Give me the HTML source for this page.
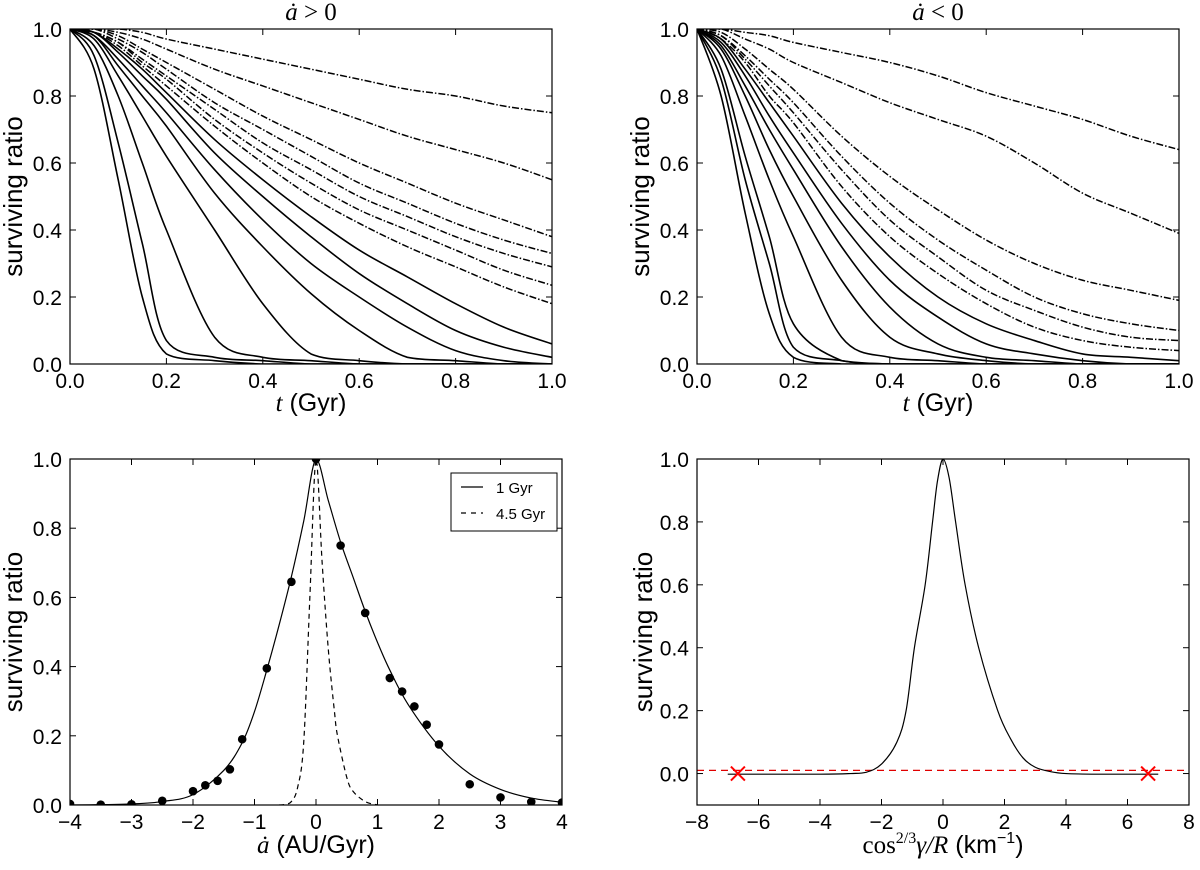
<!DOCTYPE html>
<html><head><meta charset="utf-8"><style>
html,body{margin:0;padding:0;background:#fff;}
svg{display:block;font-family:"Liberation Sans",sans-serif;}
.tick{font-size:21px;fill:#000;}
.ylab{font-size:26px;fill:#000;}
.xlab{font-size:25px;fill:#000;}
.math{font-family:"Liberation Serif",serif;font-style:italic;}
</style></head><body>
<svg id="fig" width="1200" height="870" viewBox="0 0 1200 870" xmlns="http://www.w3.org/2000/svg"></svg>
<script>
// ---- data ----
const tGrid = [0,0.05,0.1,0.15,0.2,0.3,0.4,0.5,0.6,0.7,0.8,0.9,1.0];
const posCurves = [
 [1,.88,.55,.2,.03,.01,0,0,0,0,0,0,0],
 [1,.92,.66,.36,.07,.02,.01,0,0,0,0,0,0],
 [1,.95,.8,.6,.4,.08,.02,.01,0,0,0,0,0],
 [1,.97,.86,.74,.62,.4,.18,.03,.01,0,0,0,0],
 [1,.98,.89,.8,.71,.51,.35,.21,.1,.02,.01,0,0],
 [1,.98,.91,.83,.75,.58,.43,.3,.2,.11,.04,.01,0],
 [1,.99,.93,.86,.79,.63,.5,.38,.27,.18,.1,.05,.02],
 [1,.99,.94,.88,.81,.67,.55,.44,.34,.26,.18,.11,.06],
 [1,.99,.95,.89,.83,.71,.6,.5,.42,.35,.29,.23,.18],
 [1,.99,.96,.9,.85,.73,.63,.54,.46,.4,.34,.28,.235],
 [1,.99,.96,.91,.86,.76,.66,.58,.5,.44,.38,.33,.29],
 [1,1,.97,.93,.88,.78,.7,.62,.54,.48,.42,.37,.33],
 [1,1,.98,.94,.9,.82,.74,.67,.6,.54,.48,.43,.38],
 [1,1,.99,.97,.94,.88,.83,.78,.73,.68,.64,.6,.55],
 [1,1,1,.99,.97,.94,.91,.88,.85,.82,.8,.77,.75]
];
const negCurves = [
 [1,.8,.45,.15,.02,0,0,0,0,0,0,0,0],
 [1,.85,.55,.3,.05,.01,0,0,0,0,0,0,0],
 [1,.88,.62,.38,.12,.01,0,0,0,0,0,0,0],
 [1,.92,.74,.55,.38,.08,.02,.01,0,0,0,0,0],
 [1,.94,.8,.64,.5,.25,.08,.03,.01,0,0,0,0],
 [1,.95,.83,.7,.58,.35,.17,.06,.02,.01,0,0,0],
 [1,.96,.86,.74,.63,.42,.25,.14,.06,.03,.01,0,0],
 [1,.97,.88,.78,.68,.48,.32,.2,.12,.07,.03,.02,.01],
 [1,.97,.9,.8,.72,.53,.38,.27,.18,.11,.07,.05,.04],
 [1,.98,.91,.83,.75,.58,.43,.32,.22,.16,.11,.08,.07],
 [1,.98,.92,.85,.78,.62,.48,.37,.28,.2,.15,.12,.10],
 [1,.99,.94,.88,.82,.68,.56,.46,.37,.3,.25,.22,.19],
 [1,1,.97,.94,.9,.84,.78,.73,.68,.6,.51,.45,.39],
 [1,1,.99,.98,.96,.93,.9,.86,.81,.77,.73,.68,.64]
];
const dotX = [-4,-3.5,-3,-2.5,-2,-1.8,-1.6,-1.4,-1.2,-0.8,-0.4,0,0.4,0.8,1.2,1.4,1.6,1.8,2,2.5,3,3.5,4];
const dotY = [0.003,0.001,0.002,0.012,0.04,0.057,0.07,0.103,0.19,0.395,0.645,1.0,0.75,0.555,0.367,0.328,0.285,0.232,0.175,0.06,0.022,0.009,0.007];
const fit1X = [-4,-3.5,-3,-2.5,-2,-1.5,-1.2,-1,-0.8,-0.6,-0.4,-0.2,0,0.2,0.4,0.6,0.8,1,1.2,1.5,2,2.5,3,3.5,4];
const fit1Y = [0,0.001,0.003,0.01,0.03,0.1,0.18,0.27,0.39,0.52,0.66,0.82,1.0,0.88,0.76,0.66,0.56,0.47,0.39,0.29,0.17,0.09,0.045,0.02,0.008];
const fit45X = [-0.6,-0.5,-0.4,-0.3,-0.2,-0.1,0,0.1,0.2,0.3,0.35,0.5,0.6,0.8,1.0];
const fit45Y = [0,0.002,0.01,0.05,0.18,0.6,1.0,0.7,0.45,0.27,0.2,0.08,0.04,0.01,0];
const peakX = [-7,-4,-3,-2.5,-2,-1.5,-1.2,-0.93,-0.58,-0.34,-0.18,0,0.2,0.41,0.72,1.16,1.78,2.2,2.6,3,3.5,4,5,7];
const peakY = [-0.002,-0.002,0,0.004,0.03,0.1,0.2,0.4,0.6,0.8,0.93,1,0.94,0.8,0.6,0.4,0.2,0.11,0.05,0.02,0.006,0,-0.002,-0.002];
const crossX = [-6.67,6.67];
const crossY = [0,0];
const thresholdY = [0.01];
const ticks01 = ["0.0","0.2","0.4","0.6","0.8","1.0"];
const tickAdot = ["−4","−3","−2","−1","0","1","2","3","4"];
const tickCos = ["−8","−6","−4","−2","0","2","4","6","8"];
const tickYbr = ["0.0","0.2","0.4","0.6","0.8","1.0"];

// ---- helpers ----
const NS="http://www.w3.org/2000/svg";
const svg=document.getElementById('fig');
function mk(tag,attrs,parent){const e=document.createElementNS(NS,tag);for(const k in attrs)e.setAttribute(k,attrs[k]);(parent||svg).appendChild(e);return e;}
function clampv(v,a,b){const lo=Math.min(a,b),hi=Math.max(a,b);return Math.max(lo,Math.min(hi,v));}
function smooth(pts){
  let d='M'+pts[0][0].toFixed(2)+','+pts[0][1].toFixed(2);
  for(let i=0;i<pts.length-1;i++){
    const p0=pts[Math.max(0,i-1)],p1=pts[i],p2=pts[i+1],p3=pts[Math.min(pts.length-1,i+2)];
    const c1x=p1[0]+(p2[0]-p0[0])/6,c1y=clampv(p1[1]+(p2[1]-p0[1])/6,p1[1],p2[1]);
    const c2x=p2[0]-(p3[0]-p1[0])/6,c2y=clampv(p2[1]-(p3[1]-p1[1])/6,p1[1],p2[1]);
    d+='C'+c1x.toFixed(2)+','+c1y.toFixed(2)+' '+c2x.toFixed(2)+','+c2y.toFixed(2)+' '+p2[0].toFixed(2)+','+p2[1].toFixed(2);
  }
  return d;
}
function makePanel(name,L,R,T,B,x0,x1,y0,y1){
  const g=mk('g',{});
  
  
  return {g,L,R,T,B,sx:v=>L+(v-x0)/(x1-x0)*(R-L),sy:v=>B-(v-y0)/(y1-y0)*(B-T)};
}
function frame(p,xt,xl,yt,yl){
  const clip=mk('clipPath',{id:'c'+p.L+p.T},p.g);
  mk('rect',{x:p.L,y:p.T,width:p.R-p.L,height:p.B-p.T},clip);
  p.clip='url(#c'+p.L+p.T+')';
  xt.forEach((v,i)=>{
    const x=p.sx(v);
    const t1=mk('line',{x1:x,x2:x,y1:p.B,y2:p.B-6,stroke:'#000','stroke-width':1},p.g);
    
    
    mk('line',{x1:x,x2:x,y1:p.T,y2:p.T+6,stroke:'#000','stroke-width':1},p.g);
    const tx=mk('text',{x:x,y:p.B+24,'text-anchor':'middle',class:'tick'},p.g);
    tx.textContent=xl[i];
    
    
  });
  yt.forEach((v,i)=>{
    const y=p.sy(v);
    const t1=mk('line',{x1:p.L,x2:p.L+6,y1:y,y2:y,stroke:'#000','stroke-width':1},p.g);
    
    
    mk('line',{x1:p.R,x2:p.R-6,y1:y,y2:y,stroke:'#000','stroke-width':1},p.g);
    const tx=mk('text',{x:p.L-8,y:y+8,'text-anchor':'end',class:'tick'},p.g);
    tx.textContent=yl[i];
    
    
  });
}
function border(p){
  const r=mk('rect',{x:p.L,y:p.T,width:p.R-p.L,height:p.B-p.T,fill:'none',stroke:'#000','stroke-width':1.2},p.g);
  
  
}
function ylabel(p,x){
  const t=mk('text',{x:x,y:(p.T+p.B)/2,'text-anchor':'middle',class:'ylab',transform:'rotate(-90 '+x+' '+(p.T+p.B)/2+')'},p.g);
  t.textContent='surviving ratio';
  
  
}
function curve(p,xs,ys,attrs,nm){
  const pts=xs.map((v,i)=>[p.sx(v),p.sy(ys[i])]);
  const a=Object.assign({d:smooth(pts),fill:'none',stroke:'#000','stroke-width':1.6,'clip-path':p.clip},attrs);
  const e=mk('path',a,p.g);
  
  
  return e;
}
function decayPanel(name,L,R,title,curves,nSolid){
  const p=makePanel(name,L,R,29,364,0,1,0,1);
  frame(p,[0,0.2,0.4,0.6,0.8,1],ticks01,[0,0.2,0.4,0.6,0.8,1],ticks01);
  curves.forEach((c,i)=>{
    const at=i<nSolid?{}:{'stroke-dasharray':'7 2 1.5 2','stroke-width':1.5};
    curve(p,tGrid,c,at,'survival-curve-'+(i+1));
  });
  border(p);
  ylabel(p,L-48);
  const tt=mk('text',{x:(L+R)/2,y:20,'text-anchor':'middle',class:'xlab'},p.g);
  tt.innerHTML='<tspan class="math">ȧ</tspan><tspan font-family="Liberation Serif"> '+title+' 0</tspan>';
  
  
  const xl=mk('text',{x:(L+R)/2,y:411,'text-anchor':'middle',class:'xlab'},p.g);
  xl.innerHTML='<tspan class="math">t</tspan> (Gyr)';
  
  
  return p;
}
decayPanel('panel-adot-positive',70,552,'&gt;',posCurves,8);
decayPanel('panel-adot-negative',697,1179,'&lt;',negCurves,8);

// bottom-left
const bl=makePanel('panel-adot-distribution',70,562,459,805,-4,4,0,1);
frame(bl,[-4,-3,-2,-1,0,1,2,3,4],tickAdot,[0,0.2,0.4,0.6,0.8,1],ticks01);
curve(bl,fit1X,fit1Y,{'stroke-width':1.2},'fit-1gyr-line');
curve(bl,fit45X,fit45Y,{'stroke-width':1.2,'stroke-dasharray':'5 4'},'fit-4.5gyr-line');
dotX.forEach((v,i)=>{
  const c=mk('circle',{cx:bl.sx(v),cy:bl.sy(dotY[i]),r:4.3,fill:'#000','clip-path':bl.clip},bl.g);
  
  
});
border(bl);
ylabel(bl,22);
{
  const xl=mk('text',{x:316,y:853,'text-anchor':'middle',class:'xlab'},bl.g);
  xl.innerHTML='<tspan class="math">ȧ</tspan> (AU/Gyr)';
  
  
  const lg=mk('g',{},bl.g);
  
  
  mk('rect',{x:451,y:473,width:106,height:58,fill:'#fff',stroke:'#000','stroke-width':1},lg);
  const e1=mk('line',{x1:461,x2:483,y1:487,y2:487,stroke:'#000','stroke-width':1.2},lg);
  
  
  const e2=mk('line',{x1:461,x2:483,y1:513,y2:513,stroke:'#000','stroke-width':1.2,'stroke-dasharray':'5 5'},lg);
  
  
  const a=mk('text',{x:496,y:493,style:'font-size:15px'},lg);a.textContent='1 Gyr';
  const b=mk('text',{x:496,y:519,style:'font-size:15px'},lg);b.textContent='4.5 Gyr';
}

// bottom-right
const br=makePanel('panel-size-distribution',697,1189,459,805,-8,8,-0.1,1);
frame(br,[-8,-6,-4,-2,0,2,4,6,8],tickCos,[0,0.2,0.4,0.6,0.8,1],tickYbr);
{
  const ty=br.sy(thresholdY[0]);
  const th=mk('line',{x1:br.L,x2:br.R,y1:ty,y2:ty,stroke:'#e00000','stroke-width':1.3,'stroke-dasharray':'7 5'},br.g);
  
  
}
curve(br,peakX,peakY,{'stroke-width':1.2},'survival-peak-line');
crossX.forEach((v,i)=>{
  const x=br.sx(v),y=br.sy(crossY[i]);
  const g=mk('g',{stroke:'#f00','stroke-width':2},br.g);
  
  
  mk('line',{x1:x-7,y1:y-7,x2:x+7,y2:y+7},g);
  mk('line',{x1:x-7,y1:y+7,x2:x+7,y2:y-7},g);
});
border(br);
ylabel(br,652);
{
  const xl=mk('text',{x:943,y:853,'text-anchor':'middle',class:'xlab'},br.g);
  xl.innerHTML='<tspan font-family="Liberation Serif">cos</tspan><tspan font-family="Liberation Serif" font-size="16" dy="-10">2/3</tspan><tspan class="math" dy="10">γ/R</tspan> (km<tspan font-size="16" dy="-10">−1</tspan><tspan dy="10">)</tspan>';
  
  
}
</script>
</body></html>
